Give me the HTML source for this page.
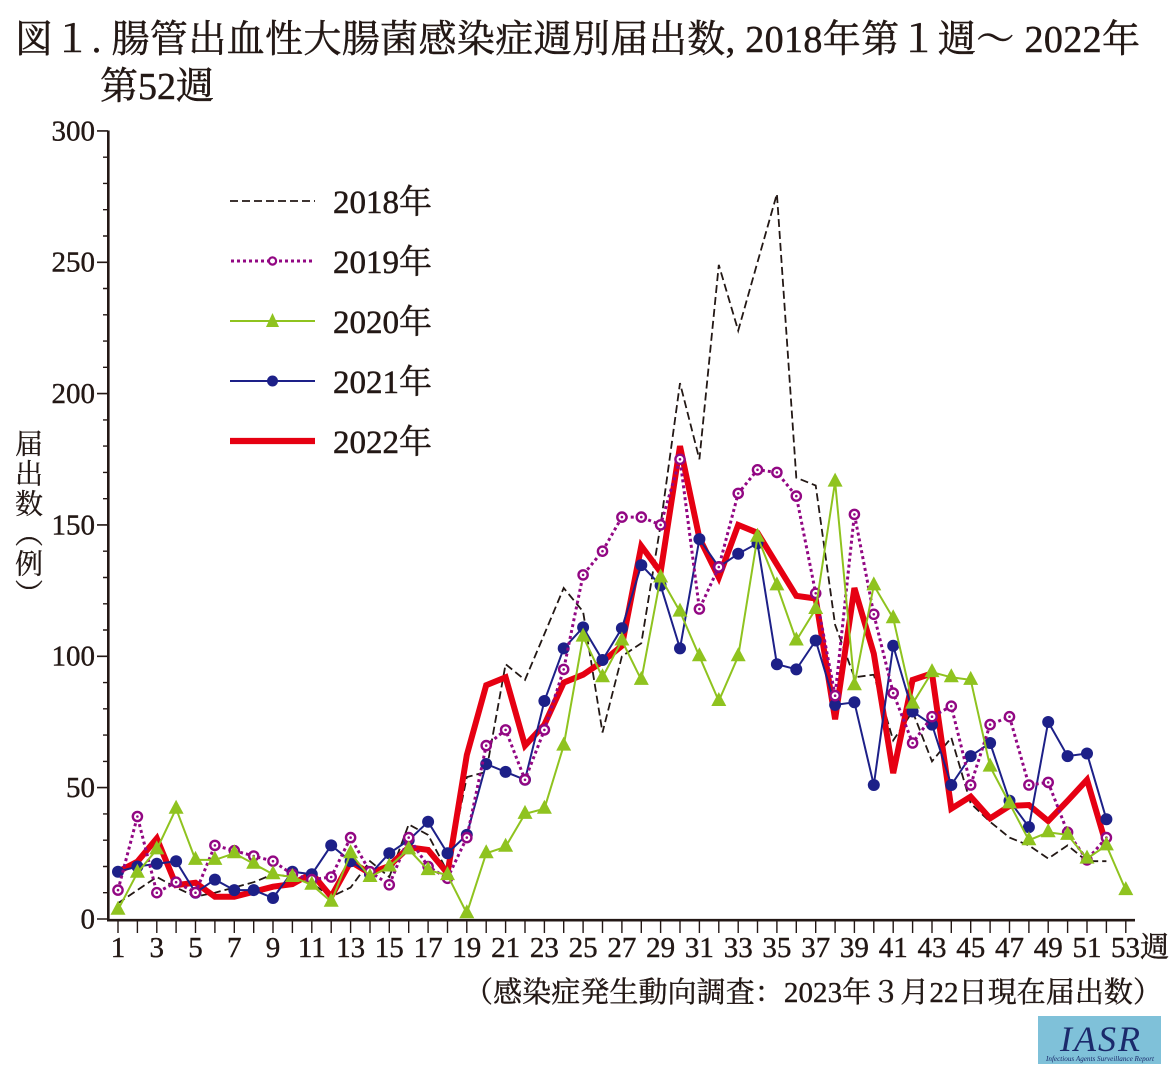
<!DOCTYPE html>
<html><head><meta charset="utf-8">
<style>
html,body{margin:0;padding:0;background:#fff;}
body{width:1176px;height:1080px;position:relative;overflow:hidden;}
svg{position:absolute;left:0;top:0;}
.ylab{position:absolute;left:12px;top:429px;writing-mode:vertical-rl;font-family:"Liberation Serif","Noto Serif CJK SC",serif;font-size:28px;line-height:28px;letter-spacing:2px;color:#231815;-webkit-text-stroke:0.3px #231815;}
</style></head>
<body>
<svg width="1176" height="1080" viewBox="0 0 1176 1080" xmlns="http://www.w3.org/2000/svg">
<defs>
<circle id="dot" r="6" fill="#1d2088"/>
<g id="ring"><circle r="4.6" fill="#fff" stroke="#920783" stroke-width="2.4"/><circle r="1.3" fill="#920783"/></g>
<path id="tri" d="M0,-9 L7.5,5 L-7.5,5Z" fill="#8fc31f"/>
</defs>
<g font-family="'Liberation Serif','Noto Serif CJK SC',serif" fill="#231815" stroke="#231815" stroke-width="0.5">
<text x="15" y="52" font-size="38" textLength="1125" lengthAdjust="spacing">図１. 腸管出血性大腸菌感染症週別届出数, 2018年第１週～ 2022年</text>
<text x="100" y="99" font-size="38">第52週</text>
</g>
<!-- axes -->
<g stroke="#231815" fill="none">
<path d="M108.3,130.5V920.2H1135" stroke-width="2.6"/>
<path d="M97,919H108M97,787.6H108M97,656.3H108M97,524.9H108M97,393.6H108M97,262.3H108M97,130.9H108" stroke-width="1.6"/>
<path d="M103,892.7H108M103,866.5H108M103,840.2H108M103,813.9H108M103,761.4H108M103,735.1H108M103,708.8H108M103,682.6H108M103,630H108M103,603.8H108M103,577.5H108M103,551.2H108M103,498.7H108M103,472.4H108M103,446.1H108M103,419.9H108M103,367.3H108M103,341.1H108M103,314.8H108M103,288.5H108M103,236H108M103,209.7H108M103,183.4H108M103,157.2H108" stroke-width="1.4"/>
<path d="M118,919V933M137.4,919V933M156.8,919V933M176.1,919V933M195.5,919V933M214.9,919V933M234.3,919V933M253.7,919V933M273,919V933M292.4,919V933M311.8,919V933M331.2,919V933M350.6,919V933M370,919V933M389.3,919V933M408.7,919V933M428.1,919V933M447.5,919V933M466.8,919V933M486.2,919V933M505.6,919V933M525,919V933M544.4,919V933M563.7,919V933M583.1,919V933M602.5,919V933M621.9,919V933M641.3,919V933M660.6,919V933M680,919V933M699.4,919V933M718.8,919V933M738.2,919V933M757.5,919V933M776.9,919V933M796.3,919V933M815.7,919V933M835.1,919V933M854.4,919V933M873.8,919V933M893.2,919V933M912.6,919V933M932,919V933M951.3,919V933M970.7,919V933M990.1,919V933M1009.5,919V933M1028.9,919V933M1048.2,919V933M1067.6,919V933M1087,919V933M1106.4,919V933M1125.8,919V933" stroke-width="1.4"/>
</g>
<g font-family="'Liberation Serif','Noto Serif CJK SC',serif" font-size="29" fill="#231815" stroke="#231815" stroke-width="0.4" text-anchor="end">
<text x="95" y="928.5">0</text>
<text x="95" y="797">50</text>
<text x="95" y="665.7">100</text>
<text x="95" y="534.3">150</text>
<text x="95" y="403">200</text>
<text x="95" y="271.7">250</text>
<text x="95" y="140.3">300</text>
</g>
<g font-family="'Liberation Serif','Noto Serif CJK SC',serif" font-size="29" fill="#231815" stroke="#231815" stroke-width="0.4" text-anchor="middle">
<text x="118" y="957">1</text><text x="156.8" y="957">3</text><text x="195.5" y="957">5</text><text x="234.3" y="957">7</text><text x="273" y="957">9</text><text x="311.8" y="957">11</text><text x="350.6" y="957">13</text><text x="389.3" y="957">15</text><text x="428.1" y="957">17</text><text x="466.8" y="957">19</text><text x="505.6" y="957">21</text><text x="544.4" y="957">23</text><text x="583.1" y="957">25</text><text x="621.9" y="957">27</text><text x="660.6" y="957">29</text><text x="699.4" y="957">31</text><text x="738.2" y="957">33</text><text x="776.9" y="957">35</text><text x="815.7" y="957">37</text><text x="854.4" y="957">39</text><text x="893.2" y="957">41</text><text x="932" y="957">43</text><text x="970.7" y="957">45</text><text x="1009.5" y="957">47</text><text x="1048.2" y="957">49</text><text x="1087" y="957">51</text>
</g>
<text x="1111" y="957" font-family="'Liberation Serif','Noto Serif CJK SC',serif" font-size="29" fill="#231815" stroke="#231815" stroke-width="0.4">53週</text>

<!-- 2018 -->
<polyline fill="none" stroke="#231815" stroke-width="1.8" stroke-dasharray="8 4" stroke-linejoin="miter" points="118,903.2 137.4,890.1 156.8,877 176.1,887.5 195.5,896.7 214.9,892.7 234.3,887.5 253.7,882.2 273,874.3 292.4,877 311.8,883.3 331.2,896.7 350.6,887.5 370,861.2 389.3,877 408.7,824.4 428.1,834.9 447.5,871.7 466.8,777.1 486.2,771.9 505.6,664.2 525,679.9 544.4,634 563.7,588 583.1,611.6 602.5,732.5 621.9,656.3 641.3,643.2 660.6,524.9 680,383.1 699.4,459.3 718.8,264.9 738.2,330.6 757.5,262.2 776.9,193.9 796.3,477.7 815.7,485.5 835.1,624.8 854.4,677.3 873.8,674.7 893.2,740.4 912.6,711.5 932,761.4 951.3,737.7 970.7,803.4 990.1,821.8 1009.5,837.6 1028.9,845.4 1048.2,858.6 1067.6,845.4 1087,861.2 1106.4,861.2"/>

<!-- 2022 -->
<polyline fill="none" stroke="#e60012" stroke-width="6" stroke-linejoin="miter" stroke-miterlimit="3" points="118,871.7 137.4,861.7 156.8,838.4 176.1,885.1 195.5,882.7 214.9,896.7 234.3,896.7 253.7,891.7 273,886.7 292.4,884.1 311.8,873.3 331.2,896.7 350.6,861.7 370,873.3 389.3,865.9 408.7,847.3 428.1,849.9 447.5,873.3 466.8,755.1 486.2,685.2 505.6,677.3 525,745.6 544.4,724.6 563.7,682.6 583.1,674.7 602.5,661.6 621.9,645.8 641.3,546 660.6,572.2 680,446.1 699.4,538.1 718.8,577.5 738.2,524.9 757.5,532.8 776.9,564.4 796.3,595.9 815.7,598.5 835.1,719.3 854.4,588 873.8,653.7 893.2,773.2 912.6,679.9 932,673.4 951.3,808.7 970.7,796.6 990.1,818.4 1009.5,806 1028.9,805 1048.2,821 1067.6,800.8 1087,779.8 1106.4,845.4"/>

<!-- 2021 -->
<polyline fill="none" stroke="#1d2088" stroke-width="2" points="118,871.7 137.4,866.5 156.8,863.8 176.1,861.2 195.5,892.7 214.9,879.6 234.3,890.1 253.7,890.1 273,898 292.4,871.7 311.8,874.3 331.2,845.4 350.6,861.2 370,874.3 389.3,853.3 408.7,840.2 428.1,821.8 447.5,853.3 466.8,834.9 486.2,764 505.6,771.9 525,779.8 544.4,701 563.7,648.4 583.1,627.4 602.5,660 621.9,628.2 641.3,565.1 660.6,585.4 680,648.4 699.4,539.1 718.8,567 738.2,553.8 757.5,543.3 776.9,664.2 796.3,669.4 815.7,640.5 835.1,704.9 854.4,702.3 873.8,785 893.2,645.8 912.6,711.5 932,724.6 951.3,785 970.7,756.1 990.1,743 1009.5,800.8 1028.9,827.1 1048.2,722 1067.6,756.1 1087,753.5 1106.4,819.2"/>
<g>
<use href="#dot" x="118" y="871.7"/><use href="#dot" x="137.4" y="866.5"/><use href="#dot" x="156.8" y="863.8"/><use href="#dot" x="176.1" y="861.2"/><use href="#dot" x="195.5" y="892.7"/><use href="#dot" x="214.9" y="879.6"/><use href="#dot" x="234.3" y="890.1"/><use href="#dot" x="253.7" y="890.1"/><use href="#dot" x="273" y="898"/><use href="#dot" x="292.4" y="871.7"/><use href="#dot" x="311.8" y="874.3"/><use href="#dot" x="331.2" y="845.4"/><use href="#dot" x="350.6" y="861.2"/><use href="#dot" x="370" y="874.3"/><use href="#dot" x="389.3" y="853.3"/><use href="#dot" x="408.7" y="840.2"/><use href="#dot" x="428.1" y="821.8"/><use href="#dot" x="447.5" y="853.3"/><use href="#dot" x="466.8" y="834.9"/><use href="#dot" x="486.2" y="764"/><use href="#dot" x="505.6" y="771.9"/><use href="#dot" x="525" y="779.8"/><use href="#dot" x="544.4" y="701"/><use href="#dot" x="563.7" y="648.4"/><use href="#dot" x="583.1" y="627.4"/><use href="#dot" x="602.5" y="660"/><use href="#dot" x="621.9" y="628.2"/><use href="#dot" x="641.3" y="565.1"/><use href="#dot" x="660.6" y="585.4"/><use href="#dot" x="680" y="648.4"/><use href="#dot" x="699.4" y="539.1"/><use href="#dot" x="718.8" y="567"/><use href="#dot" x="738.2" y="553.8"/><use href="#dot" x="757.5" y="543.3"/><use href="#dot" x="776.9" y="664.2"/><use href="#dot" x="796.3" y="669.4"/><use href="#dot" x="815.7" y="640.5"/><use href="#dot" x="835.1" y="704.9"/><use href="#dot" x="854.4" y="702.3"/><use href="#dot" x="873.8" y="785"/><use href="#dot" x="893.2" y="645.8"/><use href="#dot" x="912.6" y="711.5"/><use href="#dot" x="932" y="724.6"/><use href="#dot" x="951.3" y="785"/><use href="#dot" x="970.7" y="756.1"/><use href="#dot" x="990.1" y="743"/><use href="#dot" x="1009.5" y="800.8"/><use href="#dot" x="1028.9" y="827.1"/><use href="#dot" x="1048.2" y="722"/><use href="#dot" x="1067.6" y="756.1"/><use href="#dot" x="1087" y="753.5"/><use href="#dot" x="1106.4" y="819.2"/>
</g>

<!-- 2019 -->
<polyline fill="none" stroke="#920783" stroke-width="3" stroke-dasharray="3 3" points="118,890.1 137.4,816.5 156.8,892.7 176.1,882.2 195.5,892.7 214.9,845.4 234.3,850.7 253.7,856 273,861.2 292.4,874.3 311.8,879.6 331.2,877 350.6,837.6 370,871.7 389.3,884.8 408.7,837.6 428.1,866.5 447.5,878.3 466.8,837.6 486.2,745.6 505.6,729.9 525,779.8 544.4,729.9 563.7,669.4 583.1,574.9 602.5,551.2 621.9,517.1 641.3,517.1 660.6,524.9 680,459.3 699.4,609 718.8,567 738.2,493.4 757.5,469.8 776.9,472.4 796.3,496.1 815.7,593.3 835.1,695.7 854.4,514.4 873.8,614.3 893.2,693.1 912.6,743 932,716.7 951.3,706.2 970.7,785 990.1,724.6 1009.5,716.7 1028.9,785 1048.2,782.4 1067.6,832.3 1087,859.9 1106.4,837.6"/>
<g>
<use href="#ring" x="118" y="890.1"/><use href="#ring" x="137.4" y="816.5"/><use href="#ring" x="156.8" y="892.7"/><use href="#ring" x="176.1" y="882.2"/><use href="#ring" x="195.5" y="892.7"/><use href="#ring" x="214.9" y="845.4"/><use href="#ring" x="234.3" y="850.7"/><use href="#ring" x="253.7" y="856"/><use href="#ring" x="273" y="861.2"/><use href="#ring" x="292.4" y="874.3"/><use href="#ring" x="311.8" y="879.6"/><use href="#ring" x="331.2" y="877"/><use href="#ring" x="350.6" y="837.6"/><use href="#ring" x="370" y="871.7"/><use href="#ring" x="389.3" y="884.8"/><use href="#ring" x="408.7" y="837.6"/><use href="#ring" x="428.1" y="866.5"/><use href="#ring" x="447.5" y="878.3"/><use href="#ring" x="466.8" y="837.6"/><use href="#ring" x="486.2" y="745.6"/><use href="#ring" x="505.6" y="729.9"/><use href="#ring" x="525" y="779.8"/><use href="#ring" x="544.4" y="729.9"/><use href="#ring" x="563.7" y="669.4"/><use href="#ring" x="583.1" y="574.9"/><use href="#ring" x="602.5" y="551.2"/><use href="#ring" x="621.9" y="517.1"/><use href="#ring" x="641.3" y="517.1"/><use href="#ring" x="660.6" y="524.9"/><use href="#ring" x="680" y="459.3"/><use href="#ring" x="699.4" y="609"/><use href="#ring" x="718.8" y="567"/><use href="#ring" x="738.2" y="493.4"/><use href="#ring" x="757.5" y="469.8"/><use href="#ring" x="776.9" y="472.4"/><use href="#ring" x="796.3" y="496.1"/><use href="#ring" x="815.7" y="593.3"/><use href="#ring" x="835.1" y="695.7"/><use href="#ring" x="854.4" y="514.4"/><use href="#ring" x="873.8" y="614.3"/><use href="#ring" x="893.2" y="693.1"/><use href="#ring" x="912.6" y="743"/><use href="#ring" x="932" y="716.7"/><use href="#ring" x="951.3" y="706.2"/><use href="#ring" x="970.7" y="785"/><use href="#ring" x="990.1" y="724.6"/><use href="#ring" x="1009.5" y="716.7"/><use href="#ring" x="1028.9" y="785"/><use href="#ring" x="1048.2" y="782.4"/><use href="#ring" x="1067.6" y="832.3"/><use href="#ring" x="1087" y="859.9"/><use href="#ring" x="1106.4" y="837.6"/>
</g>

<!-- 2020 -->
<polyline fill="none" stroke="#8fc31f" stroke-width="2" points="118,909.8 137.4,872.8 156.8,849.4 176.1,808.7 195.5,859.9 214.9,859.9 234.3,853.3 253.7,863.8 273,874.3 292.4,877 311.8,884.8 331.2,901.7 350.6,853.3 370,877 389.3,866.5 408.7,849.4 428.1,870.1 447.5,875.1 466.8,913.2 486.2,853.3 505.6,846.8 525,813.9 544.4,808.7 563.7,745.6 583.1,636.6 602.5,677.3 621.9,640.5 641.3,679.9 660.6,577.5 680,611.6 699.4,656.3 718.8,701 738.2,656.3 757.5,536.8 776.9,585.4 796.3,640.5 815.7,609 835.1,481.6 854.4,685.2 873.8,585.4 893.2,618.2 912.6,703.6 932,672.1 951.3,677.3 970.7,679.9 990.1,766.6 1009.5,803.4 1028.9,840.2 1048.2,832.3 1067.6,834.9 1087,858.6 1106.4,845.4 1125.8,890.1"/>
<g>
<use href="#tri" x="118" y="909.8"/><use href="#tri" x="137.4" y="872.8"/><use href="#tri" x="156.8" y="849.4"/><use href="#tri" x="176.1" y="808.7"/><use href="#tri" x="195.5" y="859.9"/><use href="#tri" x="214.9" y="859.9"/><use href="#tri" x="234.3" y="853.3"/><use href="#tri" x="253.7" y="863.8"/><use href="#tri" x="273" y="874.3"/><use href="#tri" x="292.4" y="877"/><use href="#tri" x="311.8" y="884.8"/><use href="#tri" x="331.2" y="901.7"/><use href="#tri" x="350.6" y="853.3"/><use href="#tri" x="370" y="877"/><use href="#tri" x="389.3" y="866.5"/><use href="#tri" x="408.7" y="849.4"/><use href="#tri" x="428.1" y="870.1"/><use href="#tri" x="447.5" y="875.1"/><use href="#tri" x="466.8" y="913.2"/><use href="#tri" x="486.2" y="853.3"/><use href="#tri" x="505.6" y="846.8"/><use href="#tri" x="525" y="813.9"/><use href="#tri" x="544.4" y="808.7"/><use href="#tri" x="563.7" y="745.6"/><use href="#tri" x="583.1" y="636.6"/><use href="#tri" x="602.5" y="677.3"/><use href="#tri" x="621.9" y="640.5"/><use href="#tri" x="641.3" y="679.9"/><use href="#tri" x="660.6" y="577.5"/><use href="#tri" x="680" y="611.6"/><use href="#tri" x="699.4" y="656.3"/><use href="#tri" x="718.8" y="701"/><use href="#tri" x="738.2" y="656.3"/><use href="#tri" x="757.5" y="536.8"/><use href="#tri" x="776.9" y="585.4"/><use href="#tri" x="796.3" y="640.5"/><use href="#tri" x="815.7" y="609"/><use href="#tri" x="835.1" y="481.6"/><use href="#tri" x="854.4" y="685.2"/><use href="#tri" x="873.8" y="585.4"/><use href="#tri" x="893.2" y="618.2"/><use href="#tri" x="912.6" y="703.6"/><use href="#tri" x="932" y="672.1"/><use href="#tri" x="951.3" y="677.3"/><use href="#tri" x="970.7" y="679.9"/><use href="#tri" x="990.1" y="766.6"/><use href="#tri" x="1009.5" y="803.4"/><use href="#tri" x="1028.9" y="840.2"/><use href="#tri" x="1048.2" y="832.3"/><use href="#tri" x="1067.6" y="834.9"/><use href="#tri" x="1087" y="858.6"/><use href="#tri" x="1106.4" y="845.4"/><use href="#tri" x="1125.8" y="890.1"/>
</g>

<!-- legend -->
<line x1="230" y1="201" x2="315" y2="201" stroke="#231815" stroke-width="1.8" stroke-dasharray="8 4"/>
<line x1="231" y1="261" x2="315" y2="261" stroke="#920783" stroke-width="3" stroke-dasharray="3 3"/>
<circle cx="272.5" cy="261" r="3.6" fill="#fff" stroke="#920783" stroke-width="2.2"/>
<line x1="230" y1="321" x2="315" y2="321" stroke="#8fc31f" stroke-width="2"/>
<path d="M272.5,313 L279,327 L266,327Z" fill="#8fc31f"/>
<line x1="230" y1="381" x2="315" y2="381" stroke="#1d2088" stroke-width="2"/>
<circle cx="272.5" cy="381" r="5.5" fill="#1d2088"/>
<line x1="230" y1="441" x2="315" y2="441" stroke="#e60012" stroke-width="6.3"/>
<g font-family="'Liberation Serif','Noto Serif CJK SC',serif" font-size="33" fill="#231815" stroke="#231815" stroke-width="0.5">
<text x="333" y="213">2018年</text>
<text x="333" y="273">2019年</text>
<text x="333" y="333">2020年</text>
<text x="333" y="393">2021年</text>
<text x="333" y="453">2022年</text>
</g>

<!-- footer -->
<text x="1162" y="1002" text-anchor="end" font-family="'Liberation Serif','Noto Serif CJK SC',serif" font-size="29" fill="#231815" stroke="#231815" stroke-width="0.4" textLength="698" lengthAdjust="spacing">（感染症発生動向調査：2023年３月22日現在届出数）</text>

<!-- logo -->
<rect x="1038" y="1016" width="123" height="48" fill="#7fc1d9"/>
<text x="1100" y="1051" text-anchor="middle" font-family="'Liberation Serif',serif" font-style="italic" font-size="36" fill="#1b2a6b" textLength="80" lengthAdjust="spacing">IASR</text>
<text x="1100" y="1061" text-anchor="middle" font-family="'Liberation Serif',serif" font-style="italic" font-size="7.5" fill="#1b2a6b" textLength="108" lengthAdjust="spacingAndGlyphs">Infectious Agents Surveillance Report</text>
</svg>
<div class="ylab">届出数（例）</div>
</body></html>
